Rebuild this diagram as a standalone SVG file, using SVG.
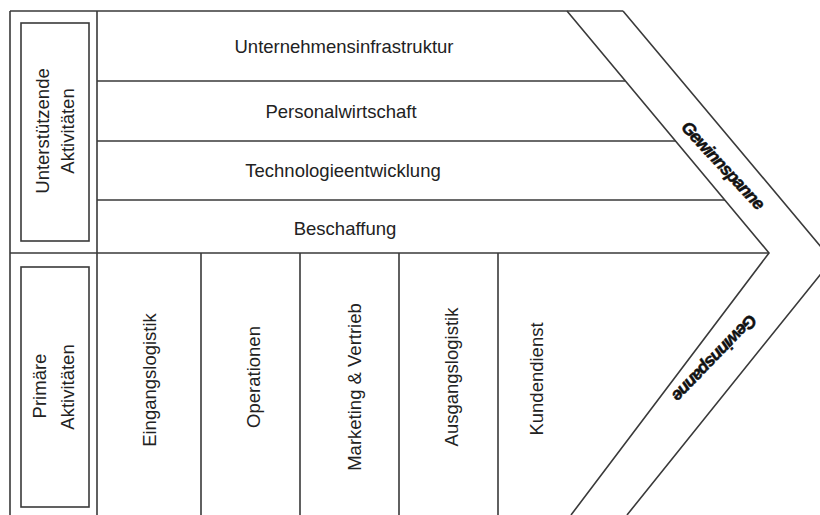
<svg xmlns="http://www.w3.org/2000/svg" width="820" height="515" viewBox="0 0 820 515">
<style>
.ln{stroke:#3a3a3a;stroke-width:1.6;fill:none}
.t{font-family:"Liberation Sans",Arial,sans-serif;font-size:18.5px;fill:#222;text-anchor:middle}
.g{font-family:"Liberation Sans",Arial,sans-serif;font-size:17.5px;font-weight:bold;font-style:italic;fill:#111;stroke:#111;stroke-width:0.5;letter-spacing:-1px;text-anchor:middle}
</style>
<rect width="820" height="515" fill="#fff"/>
<g id="connectors">
<path class="ln" d="M10,11 H623 M10,11 V515 M97,11 V515"/>
<path class="ln" d="M567,11 L769,253 L571,515"/>
<path class="ln" d="M623,11 L832,260 L627,515"/>
<path class="ln" d="M97,81 H625 M97,141 H676 M97,200 H725 M10,253 H769"/>
<path class="ln" d="M201,253 V515 M300,253 V515 M399,253 V515 M498,253 V515"/>
</g>
<g id="unterstuetzende">
<rect class="ln" x="21" y="23" width="68" height="218"/>
<text class="t" transform="translate(43,131) rotate(-90)" dy="0.35em">Unterstützende</text>
<text class="t" transform="translate(68,131) rotate(-90)" dy="0.35em">Aktivitäten</text>
</g>
<g id="primaere">
<rect class="ln" x="21" y="267" width="68" height="240"/>
<text class="t" transform="translate(40,386) rotate(-90)" dy="0.35em">Primäre</text>
<text class="t" transform="translate(68,387) rotate(-90)" dy="0.35em">Aktivitäten</text>
</g>
<g id="infrastruktur"><text class="t" x="344" y="53">Unternehmensinfrastruktur</text></g>
<g id="personal"><text class="t" x="341" y="118">Personalwirtschaft</text></g>
<g id="technologie"><text class="t" x="343" y="177">Technologieentwicklung</text></g>
<g id="beschaffung"><text class="t" x="345" y="235">Beschaffung</text></g>
<g id="eingangslogistik"><text class="t" transform="translate(150,380) rotate(-90)" dy="0.35em">Eingangslogistik</text></g>
<g id="operationen"><text class="t" transform="translate(254,377) rotate(-90)" dy="0.35em">Operationen</text></g>
<g id="marketing"><text class="t" transform="translate(355,387) rotate(-90)" dy="0.35em">Marketing &amp; Vertrieb</text></g>
<g id="ausgangslogistik"><text class="t" transform="translate(452,377) rotate(-90)" dy="0.35em">Ausgangslogistik</text></g>
<g id="kundendienst"><text class="t" transform="translate(537,379) rotate(-90)" dy="0.35em">Kundendienst</text></g>
<g id="gewinnspanne-oben"><text class="g" transform="translate(723,165) rotate(47)" dy="0.35em">Gewinnspanne</text></g>
<g id="gewinnspanne-unten"><text class="g" transform="translate(715,358) rotate(134)" dy="0.35em">Gewinnspanne</text></g>
</svg>
